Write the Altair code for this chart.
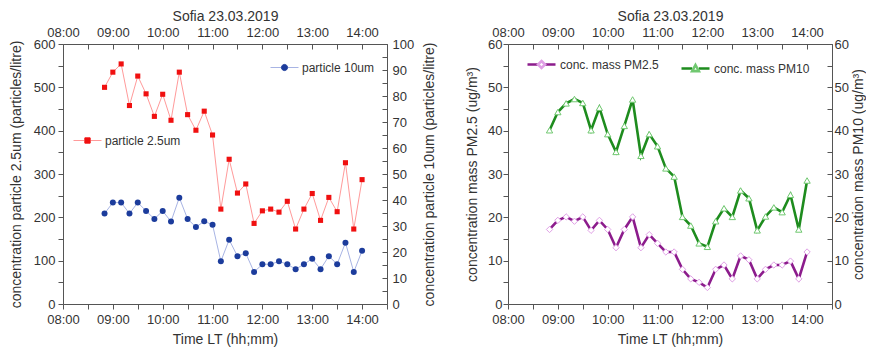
import altair as alt
import pandas as pd

# ---------------- data ----------------
times = ["08:50", "09:00", "09:10", "09:20", "09:30", "09:40", "09:50",
         "10:00", "10:10", "10:20", "10:30", "10:40", "10:50",
         "11:00", "11:10", "11:20", "11:30", "11:40", "11:50",
         "12:00", "12:10", "12:20", "12:30", "12:40", "12:50",
         "13:00", "13:10", "13:20", "13:30", "13:40", "13:50", "14:00"]

particle_25 = [500, 535, 554, 458, 526, 485, 433, 484, 424, 535, 437, 401, 445, 390,
               219, 334, 256, 277, 186, 215, 219, 212, 237, 173, 219, 255, 193, 246,
               213, 326, 173, 287]
particle_10 = [34.8, 39.0, 39.0, 34.8, 39.0, 35.8, 32.7, 35.8, 31.7, 40.9, 32.7, 29.6,
               31.8, 30.5, 16.4, 24.7, 18.4, 19.5, 12.3, 15.3, 15.3, 16.4, 15.3, 13.4,
               15.3, 17.4, 13.4, 18.4, 15.3, 23.6, 12.3, 20.5]
mass_pm25 = [17.2, 19.3, 20.1, 19.1, 20.1, 17.0, 19.3, 17.2, 13.0, 17.2, 20.1, 13.0,
             16.0, 14.0, 12.0, 12.0, 8.0, 5.8, 5.0, 3.8, 8.0, 9.0, 5.8, 11.1,
             10.2, 5.8, 8.0, 9.0, 9.0, 9.9, 5.8, 12.0]
mass_pm10 = [40.1, 44.3, 46.3, 47.3, 46.4, 40.1, 45.3, 39.2, 35.1, 41.1, 47.2, 34.2,
             39.2, 36.4, 31.3, 29.4, 20.1, 18.1, 14.0, 13.2, 19.1, 22.1, 20.1, 26.2,
             24.4, 17.0, 20.2, 22.3, 21.2, 25.2, 17.2, 28.5]

names_left = ["particle 2.5um", "particle 10um"]
names_right = ["conc. mass PM2.5", "conc. mass PM10"]

x_tick_values = [8, 8.5, 9, 9.5, 10, 10.5, 11, 11.5, 12, 12.5, 13, 13.5, 14, 14.5]
left_ticks_a = [0, 50, 100, 150, 200, 250, 300, 350, 400, 450, 500, 550, 600]
left_ticks_b = [0, 5, 10, 15, 20, 25, 30, 35, 40, 45, 50, 55, 60, 65, 70, 75, 80, 85, 90, 95, 100]
right_ticks = [0, 5, 10, 15, 20, 25, 30, 35, 40, 45, 50, 55, 60]


def to_hours(t):
    h, m = t.split(":")
    return int(h) + int(m) / 60.0


hours = [to_hours(t) for t in times]

df_left = pd.DataFrame({"hours": hours, "time": times,
                        "a": particle_25, "b": particle_10,
                        "sa": names_left[0], "sb": names_left[1]})
df_right = pd.DataFrame({"hours": hours, "time": times,
                         "a": mass_pm25, "b": mass_pm10,
                         "sa": names_right[0], "sb": names_right[1]})

# ---------------- styling ----------------
FONT = "Liberation Sans"
TXT = "#333333"
FRAME = "#555555"
W, H = 324, 260
LEG_SIZE = 784  # legend symbol box 28 px

X_LABEL = "datum.value % 1 == 0 ? (datum.value < 10 ? '0' : '') + datum.value + ':00' : ''"
xscale = alt.Scale(domain=[8, 14.5], nice=False, zero=False)

LINE_PATH = "M-1,0L-0.24,0M0.24,0L1,0"
SQUARE_PATH = "M-0.19,-0.19L0.19,-0.19L0.19,0.19L-0.19,0.19Z"
CIRCLE_PATH = "M-0.22,0A0.22,0.22 0 1,0 0.22,0A0.22,0.22 0 1,0 -0.22,0Z"
DIAMOND_PATH = "M0,-0.25L0.25,0L0,0.25L-0.25,0Z"
TRIANGLE_PATH = "M0,-0.25L0.24,0.19L-0.24,0.19Z"


def x_axis(top):
    if top:
        return alt.Axis(orient="top", values=x_tick_values, labelExpr=X_LABEL,
                        title="Sofia 23.03.2019", offset=-5, tickSize=5,
                        labelPadding=5, titlePadding=3, labelFlush=False,
                        labelOverlap=False)
    return alt.Axis(orient="bottom", values=x_tick_values, labelExpr=X_LABEL,
                    title="Time LT (hh;mm)", tickSize=5, labelPadding=4,
                    titlePadding=6, labelFlush=False, labelOverlap=False)


def y_axis(side, ticks, step, title, label_pad, title_pad):
    expr = f"datum.value % {step} == 0 ? datum.label : ''"
    if side == "left":
        return alt.Axis(orient="left", values=ticks, labelExpr=expr, title=title,
                        tickSize=5, labelPadding=label_pad, titlePadding=title_pad,
                        labelOverlap=False)
    return alt.Axis(orient="right", values=ticks, labelExpr=expr, title=title,
                    offset=-5, tickSize=5, labelPadding=label_pad,
                    titlePadding=title_pad, titleAngle=270, titleBaseline="top",
                    labelOverlap=False)


def series(df, col, name_col, top, yscale, yaxis, line_color, line_width,
           shape, size, fill, stroke, filled, marker_path, lx, ly):
    enc = dict(
        x=alt.X("hours:Q", scale=xscale, axis=x_axis(top)),
        y=alt.Y(f"{col}:Q", scale=yscale, axis=yaxis),
    )
    name = df[name_col].iloc[0]
    line_legend = alt.Legend(
        title=None, orient="none", legendX=lx, legendY=ly, padding=0,
        symbolType=LINE_PATH, symbolSize=LEG_SIZE, symbolStrokeWidth=line_width,
        symbolStrokeColor=line_color, symbolOpacity=1,
        labelExpr="''")
    pt_legend = alt.Legend(
        title=None, orient="none", legendX=lx, legendY=ly, padding=0,
        symbolType=marker_path, symbolSize=LEG_SIZE, symbolStrokeWidth=line_width,
        symbolFillColor=fill, symbolStrokeColor=stroke, symbolOpacity=1,
        labelFontSize=12, labelColor=TXT, labelFont=FONT, labelOffset=3)
    line = alt.Chart(df).mark_line(strokeWidth=line_width).encode(
        color=alt.Color(f"{name_col}:N",
                        scale=alt.Scale(domain=[name], range=[line_color]),
                        legend=line_legend),
        **enc)
    mark_kw = dict(shape=shape, size=size, filled=filled, strokeWidth=1, opacity=1)
    if not filled:
        mark_kw["fill"] = fill
    pts = alt.Chart(df).mark_point(**mark_kw).encode(
        color=alt.Color(f"{name_col}:N",
                        scale=alt.Scale(domain=[name], range=[stroke]),
                        legend=pt_legend),
        **enc)
    return alt.layer(line, pts).resolve_scale(color="independent")


# ---------------- left panel ----------------
left_a = series(df_left, "a", "sa", False,
                alt.Scale(domain=[0, 600], nice=False),
                y_axis("left", left_ticks_a, 100,
                       "concentration particle 2.5um (particles/litre)", 3, 10),
                "#ff9a9a", 1, "square", 26, "#f01010", "#f01010", True,
                SQUARE_PATH, 10, 82)
left_b = series(df_left, "b", "sb", True,
                alt.Scale(domain=[0, 100], nice=False),
                y_axis("right", left_ticks_b, 10,
                       "concentration particle 10um (particles/litre)", 5, 9),
                "#a8b4e4", 1, "circle", 36, "#1c3c9c", "#1c3c9c", True,
                CIRCLE_PATH, 207, 9)
left_panel = alt.layer(left_a, left_b).resolve_scale(
    y="independent", color="independent").resolve_axis(x="independent").properties(
    width=W, height=H)

# ---------------- right panel ----------------
right_a = series(df_right, "a", "sa", False,
                 alt.Scale(domain=[0, 60], nice=False),
                 y_axis("left", right_ticks, 10,
                        "concentration mass PM2.5 (ug/m³)", 1, 8),
                 "#8c1c8c", 2.6, "diamond", 40, "white", "#e0a0e6", False,
                 DIAMOND_PATH, 18, 5)
right_b = series(df_right, "b", "sb", True,
                 alt.Scale(domain=[0, 60], nice=False),
                 y_axis("right", right_ticks, 10,
                        "concentration mass PM10 (ug/m³)", 2, 3),
                 "#1e8c1e", 2.6, "triangle-up", 40, "white", "#70c870", False,
                 TRIANGLE_PATH, 172, 9)
right_panel = alt.layer(right_a, right_b).resolve_scale(
    y="independent", color="independent").resolve_axis(x="independent").properties(
    width=W, height=H)

chart = alt.hconcat(left_panel, right_panel, spacing=27).properties(
    padding={"left": 0, "top": 0, "right": 0, "bottom": 0}
).configure_view(stroke=FRAME, strokeWidth=1).configure_axis(
    labelFont=FONT, titleFont=FONT, labelFontSize=13, titleFontSize=14,
    labelColor=TXT, titleColor=TXT, tickColor=FRAME, titleFontWeight="normal",
    grid=False, domain=False
).configure_legend(labelFont=FONT, labelFontSize=12, labelColor=TXT)

chart.save("out.html", embed_options={"renderer": "svg", "actions": False})
